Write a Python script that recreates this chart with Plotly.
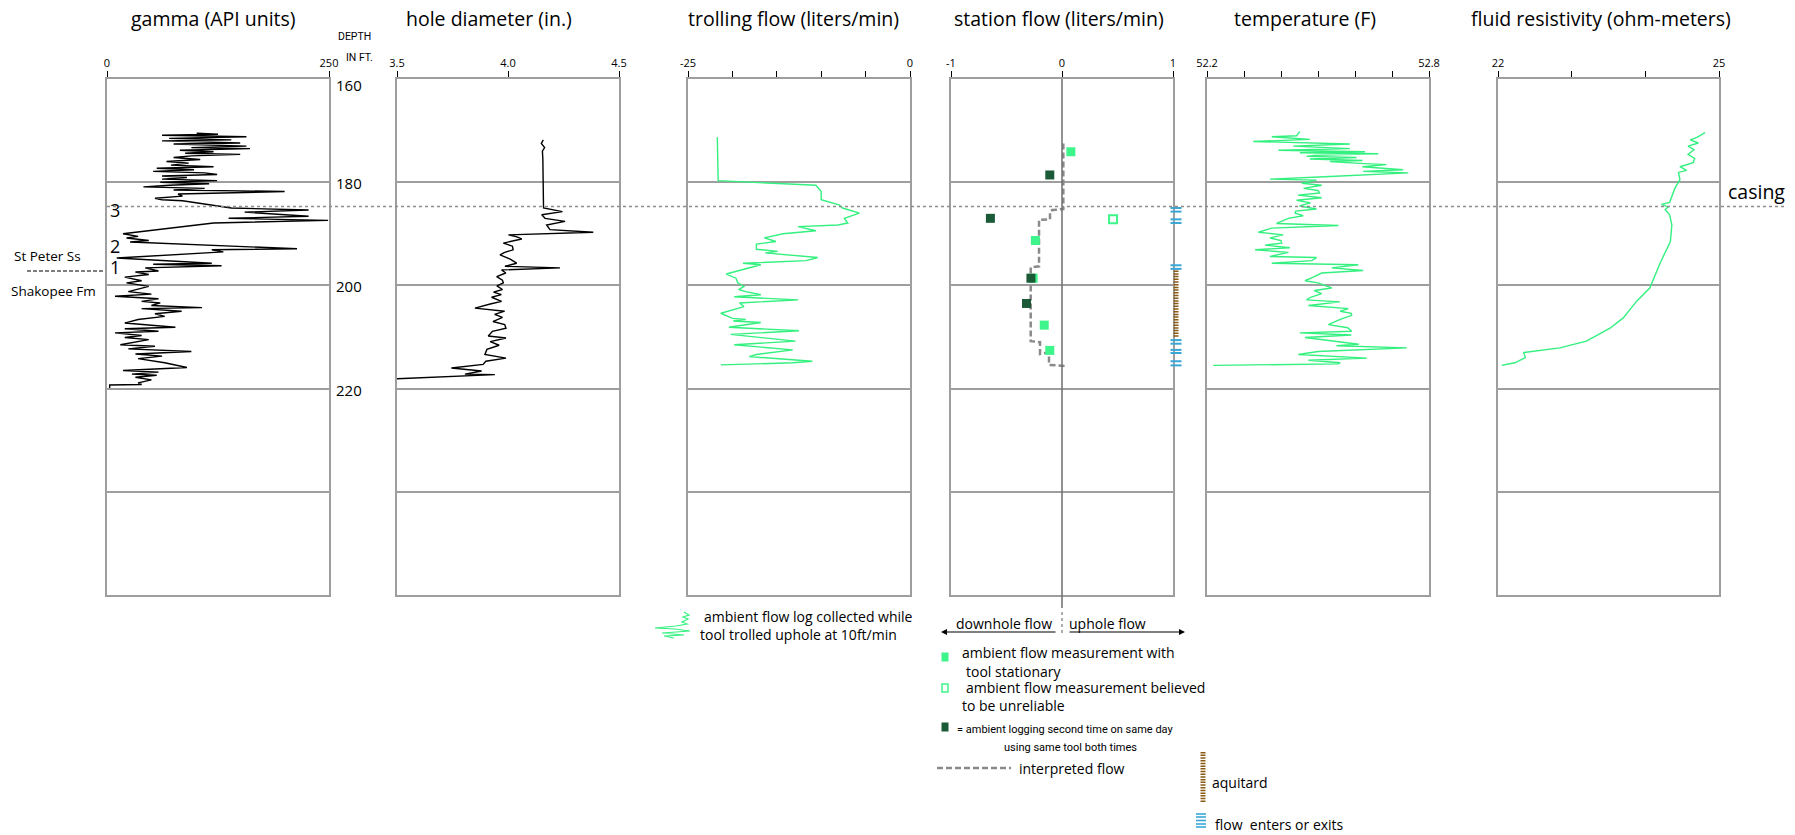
import plotly.graph_objects as go

W, H = 1795, 835
def px(x): return x / W
def py(y): return 1 - y / H

# ---------------- DATA ----------------
GAMMA_DEPTH = [170.5,170.7,170.9,171.2,171.5,171.8,172.0,172.4,172.6,173.0,173.3,173.5,173.8,174.1,174.4,174.6,174.9,175.2,175.6,176.0,
               176.3,176.7,177.0,177.3,177.6,177.9,178.2,178.5,178.8,179.1,179.4,179.7,180.0,180.3,180.6,180.9,181.2,181.5,181.8,182.3,
               182.7,183.1,183.4,183.6,185.0,185.4,185.8,186.6,187.0,187.4,187.9,190.0,190.5,190.8,191.3,191.6,192.9,193.1,193.5,194.7,
               195.7,195.9,196.2,196.6,197.2,197.4,197.9,198.4,199.1,199.5,200.2,201.2,201.7,202.1,202.6,203.1,203.4,203.9,204.3,204.5,
               205.0,205.5,206.0,206.6,207.3,207.6,208.1,208.4,208.9,209.2,209.7,210.1,210.5,211.5,211.8,212.3,212.8,213.3,213.7,214.2,
               215.0,215.9,216.5,216.8,217.2,217.4,217.8,218.3,218.9,219.2,219.3,219.9]
GAMMA_API = [101,125,62,157,70,140,62,150,75,157,95,161,82,120,88,150,95,75,105,67,
             92,72,120,56,98,52,110,124,62,90,62,124,60,115,70,41,110,75,200,80,
             85,54,62,85,140,227,155,227,137,249,120,18,35,22,47,26,214,118,131,11,
             118,52,129,43,58,32,47,20,39,22,47,24,50,9,58,39,60,50,107,39,
             84,54,65,35,20,39,77,20,58,9,39,20,47,15,54,24,95,32,62,35,
             65,90,18,58,28,56,32,50,35,39,3,3]

CALIPER_DEPTH = [171.8,172.5,173.3,174.0,175.5,180.0,184.7,185.0,185.7,186.3,187.0,187.6,188.3,189.2,189.7,190.2,190.6,191.0,191.8,192.4,
                 193.1,193.6,194.1,194.9,195.7,196.3,196.6,197.0,197.6,198.3,199.0,199.5,200.1,200.8,201.3,201.8,202.3,203.1,203.6,204.4,
                 205.0,205.6,206.2,207.0,207.6,208.3,208.9,209.8,210.2,210.9,211.6,212.4,213.4,214.1,214.7,215.3,216.0,216.6,217.2,217.3,218.1]
CALIPER_IN = [4.159,4.150,4.165,4.155,4.157,4.157,4.157,4.160,4.245,4.152,4.167,4.257,4.174,4.189,4.384,4.002,4.040,4.062,3.979,4.020,
              4.023,3.985,3.964,4.010,4.039,3.986,4.234,3.971,3.990,3.949,3.975,3.979,3.950,3.975,3.935,3.970,3.926,3.971,3.920,3.851,
              3.985,3.940,3.975,3.932,3.985,3.991,3.930,3.911,3.991,3.920,3.960,3.905,3.896,3.991,3.900,3.888,3.745,3.881,3.806,3.941,3.500]

TROLL_DEPTH = [171.3,179.7,180.6,181.8,183.4,184.4,185.0,186.0,187.0,187.9,188.3,188.6,189.4,190.0,190.8,191.5,192.0,193.0,193.4,193.7,
               194.6,195.2,195.7,196.0,197.8,198.6,199.5,200.2,200.8,201.2,201.8,202.2,202.8,203.4,204.1,205.4,206.4,206.6,206.9,207.2,
               208.1,208.8,209.5,210.8,211.5,212.5,213.4,213.8,214.7,215.0,215.4]
TROLL_LPM = [-21.7,-21.6,-10.6,-10.0,-10.0,-8.0,-7.6,-5.7,-7.4,-7.0,-8.1,-12.6,-10.6,-14.3,-16.4,-15.1,-17.3,-17.3,-14.9,-16.3,
             -10.4,-11.7,-18.8,-16.8,-20.7,-19.6,-19.4,-18.7,-19.3,-18.5,-16.8,-19.8,-12.6,-19.2,-18.7,-21.3,-20.0,-18.5,-19.9,-16.8,
             -20.4,-12.5,-20.2,-12.9,-19.8,-13.2,-17.3,-18.1,-11.0,-13.2,-21.3]

STATIONARY_DEPTH = [174.1, 191.3, 198.6, 207.7, 212.6]
STATIONARY_FLOW = [0.08, -0.24, -0.26, -0.16, -0.11]
SECOND_DEPTH = [178.6, 187.0, 198.6, 203.5]
SECOND_FLOW = [-0.11, -0.645, -0.28, -0.32]
UNRELIABLE_DEPTH = [187.2]
UNRELIABLE_FLOW = [0.46]
INTERP_DEPTH = [172.5,185.2,185.4,185.7,187.2,187.3,196.3,196.5,210.8,211.0,213.3,213.0,215.4,215.6,216.3]
INTERP_FLOW = [0.012,0.012,-0.087,-0.108,-0.108,-0.207,-0.207,-0.282,-0.282,-0.198,-0.198,-0.117,-0.117,0.012,0.012]
FLOW_ZONE_DEPTHS = [185.0,185.7,187.2,187.9,196.1,196.8,210.6,211.3,212.5,213.1,214.7,215.5]
AQUITARD_DEPTHS = [197.1, 210.0]

TEMP_DEPTH = [170.2,171.0,171.2,171.7,172.1,172.6,173.0,173.5,173.8,174.1,174.3,174.5,174.8,175.0,175.2,175.5,175.8,176.0,176.3,176.6,
              177.0,177.3,177.6,177.9,178.2,178.9,179.4,179.6,180.2,180.6,181.2,181.6,182.1,182.5,183.0,183.5,184.0,184.6,185.2,185.6,
              186.0,186.5,187.0,188.0,188.4,188.9,189.7,190.2,190.8,191.3,191.8,192.2,192.7,193.1,193.6,194.4,194.6,195.2,195.7,196.0,
              196.6,197.1,197.6,198.3,199.1,199.5,199.9,200.5,201.0,201.6,202.3,202.8,203.2,203.9,204.5,205.0,205.4,205.8,206.6,207.6,
              208.2,208.9,209.2,209.6,210.1,210.6,211.4,211.7,212.1,212.8,213.4,214.1,214.5,215.0,215.2,215.5]
TEMP_F = [52.451,52.442,52.375,52.478,52.325,52.586,52.433,52.586,52.393,52.627,52.451,52.663,52.490,52.469,52.604,52.478,52.620,52.532,52.600,52.685,
          52.620,52.676,52.730,52.622,52.744,52.532,52.370,52.496,52.456,52.510,52.461,52.500,52.505,52.446,52.510,52.442,52.480,52.450,52.496,52.440,
          52.438,52.460,52.420,52.388,52.555,52.375,52.339,52.406,52.370,52.400,52.402,52.357,52.424,52.330,52.420,52.370,52.496,52.483,52.375,52.609,
          52.537,52.622,52.510,52.490,52.465,52.500,52.514,52.537,52.490,52.510,52.480,52.469,52.559,52.474,52.582,52.560,52.590,52.591,52.560,52.528,
          52.580,52.591,52.451,52.590,52.465,52.520,52.610,52.550,52.740,52.500,52.447,52.632,52.474,52.560,52.555,52.217]

RES_DEPTH = [170.4,171.3,171.8,172.4,173.0,173.7,174.6,175.4,176.2,177.0,177.7,178.1,179.5,181.2,183.9,184.3,184.8,185.3,186.3,188.3,
             191.5,195.7,200.5,203.1,206.3,208.3,210.8,212.1,213.0,214.0,215.0,215.5]
RES_OHM = [24.81,24.70,24.61,24.72,24.58,24.66,24.58,24.67,24.65,24.47,24.56,24.45,24.47,24.40,24.33,24.22,24.31,24.27,24.33,24.36,
           24.34,24.20,24.06,23.88,23.70,23.52,23.20,22.84,22.35,22.37,22.23,22.05]

DEPTH_LABELS = [160, 180, 200, 220]
CASING_DEPTH = 184.7

# ---------------- STYLE ----------------
FONT = "Open Sans"
GREEN = "#33F07F"
LIGHT_SQ = "#3DF58A"
DARK_SQ = "#1A5A36"
BORDER = "#9E9E9E"
Y_TOP, Y_BOT = 79, 595

panels = [
    dict(l=107, r=329, rng=[0, 250], tv=[0, 250], tt=["0", "250"]),
    dict(l=397, r=619, rng=[3.5, 4.5], tv=[3.5, 4.0, 4.5], tt=["3.5", "4.0", "4.5"]),
    dict(l=688, r=910, rng=[-25, 0], tv=[-25, -20, -15, -10, -5, 0], tt=["-25", "", "", "", "", "0"]),
    dict(l=951, r=1173, rng=[-1, 1], tv=[-1, 0, 1], tt=["-1", "0", "1"]),
    dict(l=1207, r=1429, rng=[52.2, 52.8], tv=[52.2, 52.3, 52.4, 52.5, 52.6, 52.7, 52.8],
         tt=["52.2", "", "", "", "", "", "52.8"]),
    dict(l=1498, r=1719, rng=[22, 25], tv=[22, 23, 24, 25], tt=["22", "", "", "25"]),
]

fig = go.Figure()
layout = dict(width=W, height=H, autosize=False,
              margin=dict(l=0, r=0, t=0, b=0, pad=0, autoexpand=False),
              paper_bgcolor="white", plot_bgcolor="rgba(0,0,0,0)", showlegend=False,
              font=dict(family=FONT, color="black"))

for i, p in enumerate(panels, start=1):
    sfx = "" if i == 1 else str(i)
    layout["xaxis" + sfx] = dict(domain=[px(p["l"]), px(p["r"])], range=p["rng"], side="top",
                                 anchor="y" + sfx, tickmode="array", tickvals=p["tv"], ticktext=p["tt"],
                                 ticks="outside", ticklen=6, tickwidth=1.3, tickcolor="black",
                                 tickfont=dict(size=11, color="black", family=FONT),
                                 showline=True, linecolor=BORDER, linewidth=2, mirror=True,
                                 showgrid=False, zeroline=False, fixedrange=True, automargin=False)
    layout["yaxis" + sfx] = dict(domain=[py(Y_BOT), py(Y_TOP)], range=[260, 160], anchor="x" + sfx,
                                 showticklabels=False, ticks="", tick0=160, dtick=20,
                                 showgrid=True, gridcolor=BORDER, gridwidth=2,
                                 showline=True, linecolor=BORDER, linewidth=2, mirror=True,
                                 zeroline=False, fixedrange=True, automargin=False)

# zone strip at right edge of station panel
layout["xaxis7"] = dict(domain=[px(1165), px(1187)], range=[-1, 1], visible=False, anchor="y7", automargin=False)
layout["yaxis7"] = dict(domain=[py(Y_BOT), py(Y_TOP)], range=[260, 160], visible=False, anchor="x7", automargin=False)

fig.add_trace(go.Scatter(x=GAMMA_API, y=GAMMA_DEPTH, mode="lines", line=dict(color="black", width=1.4),
                         xaxis="x", yaxis="y"))
fig.add_trace(go.Scatter(x=CALIPER_IN, y=CALIPER_DEPTH, mode="lines", line=dict(color="black", width=1.4),
                         xaxis="x2", yaxis="y2"))
fig.add_trace(go.Scatter(x=TROLL_LPM, y=TROLL_DEPTH, mode="lines", line=dict(color=GREEN, width=1.4),
                         xaxis="x3", yaxis="y3"))
fig.add_trace(go.Scatter(x=INTERP_FLOW, y=INTERP_DEPTH, mode="lines",
                         line=dict(color="#8A8A8A", width=2.5, dash="6px,3px"), xaxis="x4", yaxis="y4"))
fig.add_trace(go.Scatter(x=STATIONARY_FLOW, y=STATIONARY_DEPTH, mode="markers",
                         marker=dict(symbol="square", size=9, color=LIGHT_SQ), xaxis="x4", yaxis="y4"))
fig.add_trace(go.Scatter(x=SECOND_FLOW, y=SECOND_DEPTH, mode="markers",
                         marker=dict(symbol="square", size=9, color=DARK_SQ), xaxis="x4", yaxis="y4"))
fig.add_trace(go.Scatter(x=UNRELIABLE_FLOW, y=UNRELIABLE_DEPTH, mode="markers",
                         marker=dict(symbol="square-open", size=8, color=LIGHT_SQ, line=dict(width=2)),
                         xaxis="x4", yaxis="y4"))
zx, zy = [], []
for d in FLOW_ZONE_DEPTHS:
    zx += [-0.5, 0.5, None]
    zy += [d, d, None]
fig.add_trace(go.Scatter(x=zx, y=zy, mode="lines", line=dict(color="#3AA6D6", width=2),
                         xaxis="x7", yaxis="y7"))
fig.add_trace(go.Scatter(x=[0, 0], y=AQUITARD_DEPTHS, mode="lines",
                         line=dict(color="#8B5A14", width=5, dash="1.5px,1.2px"), xaxis="x7", yaxis="y7"))
fig.add_trace(go.Scatter(x=TEMP_F, y=TEMP_DEPTH, mode="lines", line=dict(color=GREEN, width=1.4),
                         xaxis="x5", yaxis="y5"))
fig.add_trace(go.Scatter(x=RES_OHM, y=RES_DEPTH, mode="lines", line=dict(color=GREEN, width=1.4),
                         xaxis="x6", yaxis="y6"))

shapes = []
# station zero line (extends below panel)
shapes.append(dict(type="line", xref="x4", yref="paper", x0=0, x1=0, y0=py(608), y1=py(Y_TOP),
                   line=dict(color="#6E6E6E", width=1.5)))
# casing dotted line
shapes.append(dict(type="line", xref="paper", yref="y", x0=px(107), x1=px(1785), y0=CASING_DEPTH, y1=CASING_DEPTH,
                   line=dict(color="#8C8C8C", width=1.5, dash="dot")))
# formation contact dashed line
shapes.append(dict(type="line", xref="paper", yref="paper", x0=px(27), x1=px(103), y0=py(271), y1=py(271),
                   line=dict(color="black", width=1.2, dash="4px,2px")))

# legend: trolling squiggle icon
sq = [(684, 612), (689, 615), (683, 617), (688, 619), (682, 622), (687, 624), (676, 626), (655, 628),
      (675, 629), (690, 631), (662, 633), (684, 635), (664, 636), (674, 638)]
path = "M " + " L ".join(f"{px(x):.5f},{py(y):.5f}" for x, y in sq)
shapes.append(dict(type="path", xref="paper", yref="paper", path=path, line=dict(color=GREEN, width=1.2)))
# legend arrows divider
shapes.append(dict(type="line", xref="paper", yref="paper", x0=px(1062), x1=px(1062), y0=py(612), y1=py(634),
                   line=dict(color="#777", width=1.2, dash="dot")))
# legend squares
def rect(cx, cy, w, h, fill, line_color, lw=0):
    return dict(type="rect", xref="paper", yref="paper", x0=px(cx - w / 2), x1=px(cx + w / 2),
                y0=py(cy + h / 2), y1=py(cy - h / 2), fillcolor=fill,
                line=dict(color=line_color, width=lw))
shapes.append(rect(945, 657, 7, 9, LIGHT_SQ, LIGHT_SQ))
shapes.append(rect(945, 688, 6, 8, "rgba(0,0,0,0)", LIGHT_SQ, 1.5))
shapes.append(rect(945, 727, 7, 9, DARK_SQ, DARK_SQ))
# legend interpreted flow line
shapes.append(dict(type="line", xref="paper", yref="paper", x0=px(937), x1=px(1011), y0=py(768), y1=py(768),
                   line=dict(color="#8A8A8A", width=2.5, dash="6px,3px")))
# legend aquitard
shapes.append(dict(type="line", xref="paper", yref="paper", x0=px(1203), x1=px(1203), y0=py(802), y1=py(752),
                   line=dict(color="#8B5A14", width=5, dash="1.5px,1.2px")))
# legend flow enters/exits
for yy in [814, 817, 820.5, 824, 827]:
    shapes.append(dict(type="line", xref="paper", yref="paper", x0=px(1196), x1=px(1206), y0=py(yy), y1=py(yy),
                       line=dict(color="#3AA6D6", width=1.6)))

ann = []
def text(x, y, s, size, anchor="center", yref="paper", family=FONT, color="black"):
    ann.append(dict(x=px(x), y=(py(y) if yref == "paper" else y), xref="paper", yref=yref, text=s,
                    showarrow=False, xanchor=anchor, yanchor="middle",
                    font=dict(size=size, family=family, color=color)))

titles = [(213, "gamma (API units)"), (489, "hole diameter (in.)"), (793, "trolling flow (liters/min)"),
          (1059, "station flow (liters/min)"), (1305, "temperature (F)"), (1601, "fluid resistivity (ohm-meters)")]
for x, t in titles:
    text(x, 18, t, 19.5)

text(354, 36, "DEPTH", 10.5, family="Roboto")
text(359, 57, "IN FT.", 10.5, family="Roboto")
for d in DEPTH_LABELS:
    ann.append(dict(x=px(349), y=d, xref="paper", yref="y", text=str(d), showarrow=False,
                    xanchor="center", yanchor="middle", yshift=(-6 if d == 160 else -1),
                    font=dict(size=15, family=FONT, color="black")))

text(115, 210, "3", 18)
text(115, 246, "2", 18)
text(115, 267, "1", 18)
text(12, 256, "St Peter Ss", 13.5, anchor="left")
text(9, 291, "Shakopee Fm", 13.5, anchor="left")
text(1756, 191, "casing", 19.5)

# legends text
text(702, 616, "ambient flow log collected while", 14, anchor="left")
text(698, 634, "tool trolled uphole at 10ft/min", 14, anchor="left")
text(1004, 623, "downhole flow", 14)
text(1107, 623, "uphole flow", 14)
text(960, 652, "ambient flow measurement with", 14, anchor="left")
text(964, 671, "tool stationary", 14, anchor="left")
text(964, 687, "ambient flow measurement believed", 14, anchor="left")
text(960, 705, "to be unreliable", 14, anchor="left")
text(955, 729, "= ambient logging second time on same day", 11, anchor="left", family="Roboto")
text(1070, 747, "using same tool both times", 11, family="Roboto")
text(1017, 768, "interpreted flow", 14, anchor="left")
text(1210, 782, "aquitard", 14, anchor="left")
text(1213, 824, "flow  enters or exits", 14, anchor="left")

# arrows
ann.append(dict(x=px(941), y=py(632), xref="paper", yref="paper", ax=116, ay=0, text="", showarrow=True,
                arrowhead=2, arrowsize=1, arrowwidth=1.2, arrowcolor="black"))
ann.append(dict(x=px(1185), y=py(632), xref="paper", yref="paper", ax=-117, ay=0, text="", showarrow=True,
                arrowhead=2, arrowsize=1, arrowwidth=1.2, arrowcolor="black"))

layout["shapes"] = shapes
layout["annotations"] = ann
fig.update_layout(**layout)
fig.write_html("out.html", config={"displayModeBar": False},
               post_script="document.body.style.margin='0';document.body.style.padding='0';"
                           "document.documentElement.style.overflow='hidden';")
